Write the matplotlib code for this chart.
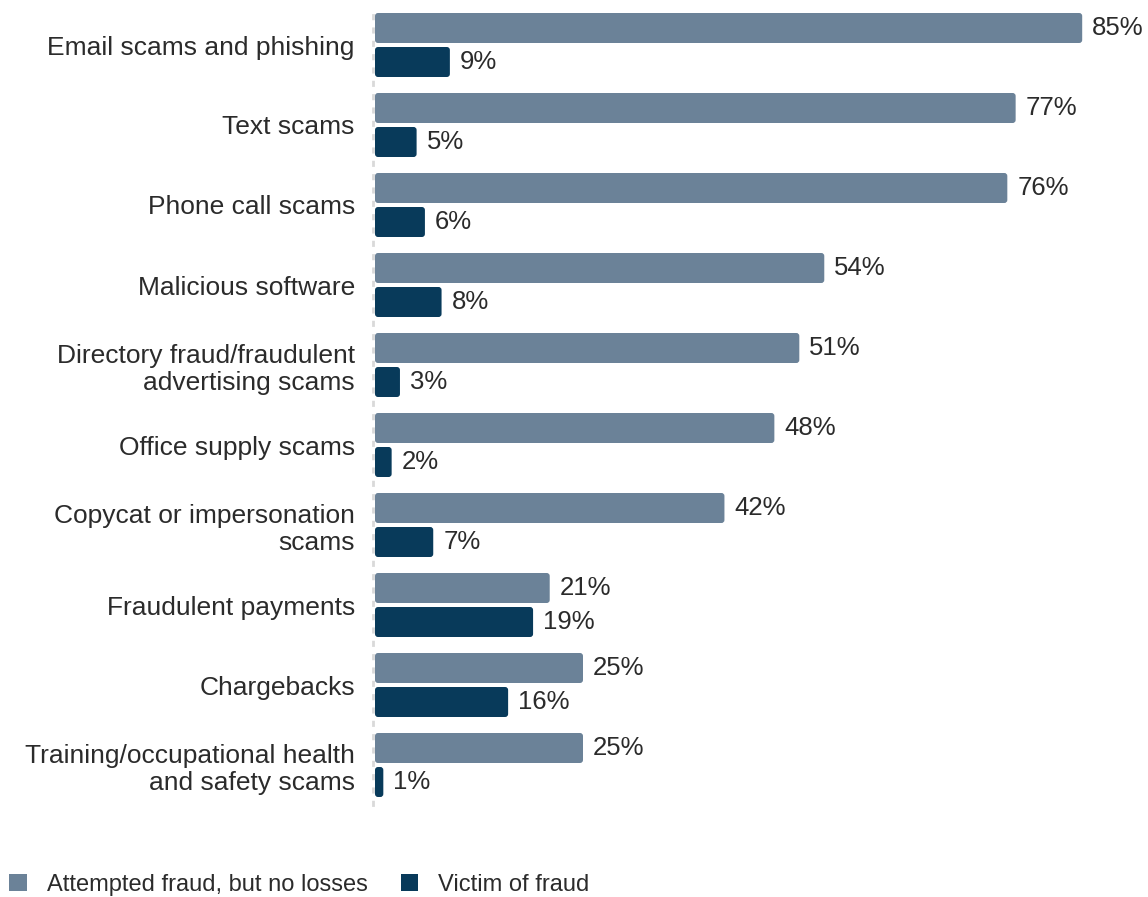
import matplotlib
matplotlib.use("Agg")
import matplotlib.pyplot as plt
import matplotlib.patches as mpatches
from matplotlib.patches import FancyBboxPatch

categories = [
    "Email scams and phishing",
    "Text scams",
    "Phone call scams",
    "Malicious software",
    "Directory fraud/fraudulent\nadvertising scams",
    "Office supply scams",
    "Copycat or impersonation\nscams",
    "Fraudulent payments",
    "Chargebacks",
    "Training/occupational health\nand safety scams",
]
attempted = [85, 77, 76, 54, 51, 48, 42, 21, 25, 25]
victim = [9, 5, 6, 8, 3, 2, 7, 19, 16, 1]
series_names = ["Attempted fraud, but no losses", "Victim of fraud"]

COL_ATT = "#6b8298"
COL_VIC = "#083a5a"
TXT = "#2b2b2b"

plt.rcParams["font.family"] = ["Liberation Sans", "DejaVu Sans"]

W, H = 1148, 897
fig = plt.figure(figsize=(W / 100, H / 100), dpi=100)
ax_left, ax_right = 375, 1100
ax_top, ax_bot = 5, 805
ax = fig.add_axes([ax_left / W, 1 - ax_bot / H, (ax_right - ax_left) / W, (ax_bot - ax_top) / H])

px_per_unit = 8.32
xmax = (ax_right - ax_left) / px_per_unit
ax.set_xlim(0, xmax)
ax.set_ylim(len(categories) - 0.5, -0.5)

bar_h = 0.375
off = 0.2125
ys = list(range(len(categories)))
b1 = ax.barh([y - off for y in ys], attempted, height=bar_h, color=COL_ATT)
b2 = ax.barh([y + off for y in ys], victim, height=bar_h, color=COL_VIC)

# rounded corners (~3 px) for each bar
y_px_per_unit = (ax_bot - ax_top) / len(categories)
r = 3.0 / px_per_unit
aspect = px_per_unit / y_px_per_unit
for bars in (b1, b2):
    for p in bars:
        p.set_visible(False)
        fb = FancyBboxPatch((p.get_x(), p.get_y()), p.get_width(), p.get_height(),
                            boxstyle=f"round,pad=0,rounding_size={min(r, p.get_width() / 2)}",
                            mutation_aspect=aspect, facecolor=p.get_facecolor(),
                            edgecolor="none", zorder=3)
        ax.add_patch(fb)

fs = 18.5
for y, a, v in zip(ys, attempted, victim):
    ax.text(a + 10 / px_per_unit, y - off, f"{a}%", va="center", ha="left",
            fontsize=fs, color=TXT)
    ax.text(v + 10 / px_per_unit, y + off, f"{v}%", va="center", ha="left",
            fontsize=fs, color=TXT)

ax.set_yticks(ys)
ax.set_yticklabels(categories, linespacing=1.05)
ax.tick_params(axis="y", length=0, pad=13, labelsize=19, labelcolor=TXT)
ax.set_xticks([])
for s in ("top", "right", "bottom"):
    ax.spines[s].set_visible(False)
ax.spines["left"].set_color("#d9d9d9")
ax.spines["left"].set_linewidth(2.0)
ax.spines["left"].set_linestyle((0, (1.2, 3.6)))
ax.spines["left"].set_position(("data", -0.25))
ax.spines["left"].set_zorder(1)

handles = [mpatches.Patch(facecolor=COL_ATT, edgecolor="none"),
           mpatches.Patch(facecolor=COL_VIC, edgecolor="none")]
fig.legend(handles, series_names, loc="center left",
           bbox_to_anchor=(9 / W, 1 - 885 / H), bbox_transform=fig.transFigure,
           ncol=2, frameon=False, fontsize=17, handlelength=0.75, handleheight=0.75,
           handletextpad=0.85, columnspacing=1.4, borderpad=0, borderaxespad=0,
           labelcolor=TXT)

fig.savefig("out.png", dpi=100)
